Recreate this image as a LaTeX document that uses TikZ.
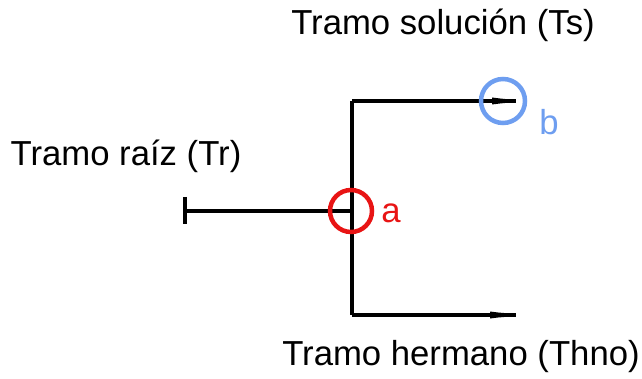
\documentclass[tikz,border=0pt]{standalone}
\usepackage{fontspec}
\setmainfont{Liberation Sans}
\definecolor{mred}{RGB}{232,20,20}
\definecolor{mblue}{RGB}{110,158,240}
\begin{document}
\begin{tikzpicture}[x=1pt,y=-1pt,
  wire/.style={line width=3.8pt},
  lbl/.style={font=\fontsize{34.7}{38}\selectfont, anchor=base, inner sep=0pt},
  ring/.style={circle, line width=4.5pt, inner sep=0pt, fill=none},
  tipbox/.style={fill=black}]
\useasboundingbox (0,0) rectangle (642,379);
\coordinate (root) at (185,211);
\coordinate (junc) at (352,211);
\coordinate (top) at (352,101);
\coordinate (bot) at (352,315);
\coordinate (topend) at (516,101);
\coordinate (botend) at (516,315);
\draw[wire] (185,197) -- (185,224);
\draw[wire] (root) -- (junc);
\draw[wire] (top) -- (bot);
\draw[wire] (top) -- (topend);
\draw[wire] (bot) -- (botend);
\fill[tipbox] (492,97.5) -- (500,98.5) -- (505,99) -- (505,103) -- (500,103.5) -- (492,104.5) -- cycle;
\fill[tipbox] (490,311.5) -- (498,312.5) -- (504,313) -- (504,317) -- (498,317.5) -- (490,318.5) -- cycle;
\node[ring, draw=mred, minimum size=42pt] (ra) at (351,211) {};
\node[ring, draw=mblue, minimum size=44pt] (rb) at (503,101) {};
\node[lbl] (ts) at (443,35) {Tramo solución (Ts)};
\node[lbl] (tr) at (126,166) {Tramo raíz (Tr)};
\node[lbl] (th) at (461,365) {Tramo hermano (Thno)};
\node[lbl, text=mred] (la) at (391,223) {a};
\node[lbl, text=mblue] (lb) at (549,135) {b};
\end{tikzpicture}
\end{document}
